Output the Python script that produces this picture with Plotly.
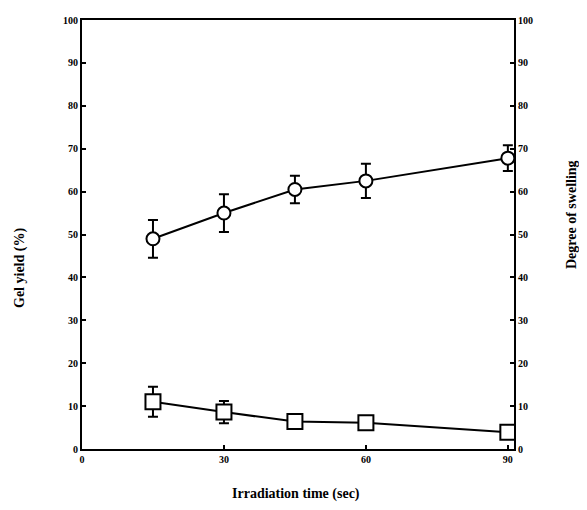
import plotly.graph_objects as go

time_sec = [15, 30, 45, 60, 90]
gel_yield = [49, 55, 60.5, 62.5, 67.8]
gel_err = [4.4, 4.4, 3.2, 4.0, 3.0]
swelling = [11.0, 8.6, 6.4, 6.1, 3.9]
swell_err = [3.5, 2.6, 0.8, 0.8, 0.8]
x_ticks = [0, 30, 60, 90]
y_ticks = [0, 10, 20, 30, 40, 50, 60, 70, 80, 90, 100]

font_fam = "Liberation Serif"
tick_font = dict(family=font_fam, size=10, color="black", weight="bold")
title_font = dict(family=font_fam, size=14, color="black", weight="bold")

# page body has an 8px default margin; compensate so the plot sits where the reference does
# and keep the page inside the window (no scrollbars)
OFF = 8
W, H = 587 - 2 * OFF, 510 - 2 * OFF
L, T = 82 - OFF, 20 - OFF
R = W - (514 - OFF)
B = H - (449 - OFF)
pw, ph = W - L - R, H - T - B


def px(x, y):
    xf, yf = x - OFF, y - OFF
    return (xf - L) / pw, (H - yf - B) / ph


fig = go.Figure()
fig.add_trace(go.Scatter(
    x=time_sec, y=gel_yield, mode="lines+markers",
    line=dict(color="black", width=2),
    marker=dict(symbol="circle", size=13, color="white", line=dict(color="black", width=2)),
    error_y=dict(type="data", array=gel_err, color="black", thickness=2, width=5),
    showlegend=False, yaxis="y"))
fig.add_trace(go.Scatter(
    x=time_sec, y=swelling, mode="lines+markers",
    line=dict(color="black", width=2),
    marker=dict(symbol="square", size=15, color="white", line=dict(color="black", width=2)),
    error_y=dict(type="data", array=swell_err, color="black", thickness=2, width=5),
    showlegend=False, yaxis="y2"))

axis_common = dict(ticks="inside", ticklen=4, tickcolor="black", tickwidth=1.5,
                   showline=True, linecolor="black", linewidth=2,
                   showgrid=False, zeroline=False, tickfont=tick_font, automargin=False)

bx, by = px(296, 494)
lx, ly = px(20, 268)
rx, ry = px(571, 215)

fig.update_layout(
    width=W, height=H,
    margin=dict(l=L, r=R, t=T, b=B),
    paper_bgcolor="white", plot_bgcolor="white",
    xaxis=dict(range=[0, 91.3], tickvals=x_ticks, ticktext=[str(v) for v in x_ticks],
               mirror=True, **axis_common),
    yaxis=dict(range=[0, 100], tickvals=y_ticks, **axis_common),
    yaxis2=dict(range=[0, 100], tickvals=y_ticks, overlaying="y", side="right", **axis_common),
    annotations=[
        dict(text="Irradiation time (sec)", x=bx, y=by, xref="paper", yref="paper",
             showarrow=False, font=title_font, xanchor="center", yanchor="middle"),
        dict(text="Gel yield (%)", x=lx, y=ly, xref="paper", yref="paper",
             showarrow=False, textangle=-90, font=title_font,
             xanchor="center", yanchor="middle"),
        dict(text="Degree of swelling", x=rx, y=ry, xref="paper", yref="paper",
             showarrow=False, textangle=-90, font=title_font,
             xanchor="center", yanchor="middle"),
    ],
)

fig.write_html("out.html")
